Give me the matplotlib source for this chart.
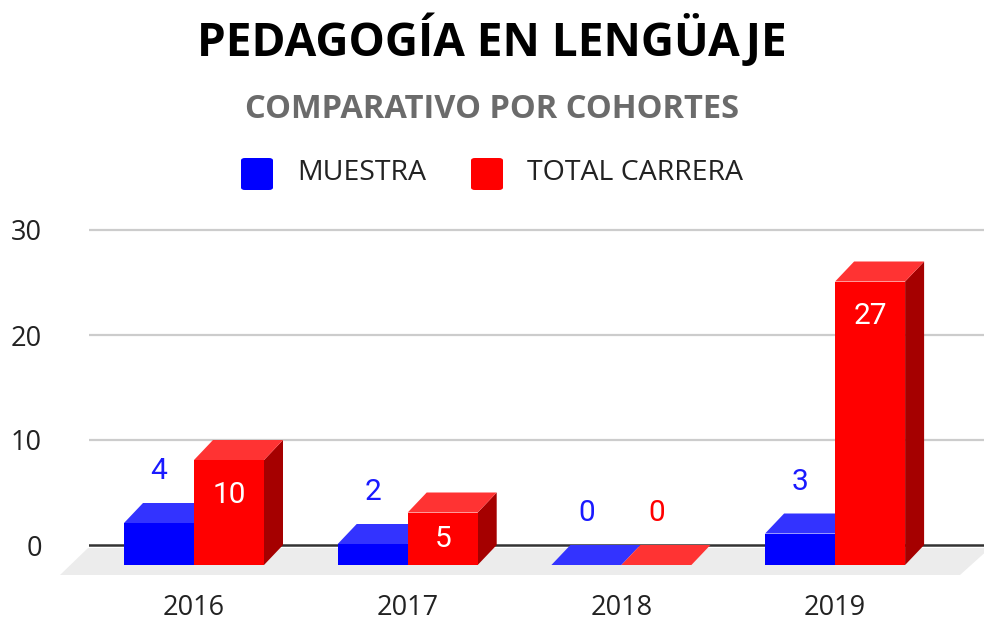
import matplotlib
matplotlib.use('Agg')
import matplotlib.pyplot as plt
from matplotlib.patches import Polygon, FancyBboxPatch

# --- DATA ---
years = ['2016', '2017', '2018', '2019']
muestra = [4, 2, 0, 3]
total_carrera = [10, 5, 0, 27]
y_ticks = [0, 10, 20, 30]

# --- LOOK ---
W, H = 984, 628
PX_Y = 10.5          # pixels per unit on y
SLOT = 213.7         # pixels per category
X0_PX = 194          # pixel x of first category
ZERO_PX = 545        # pixel y (from top) of value 0
LEFT_PX, RIGHT_PX = 89, 984

BAR_W = 70 / SLOT
DX = 19 / SLOT
DY = 20 / PX_Y

blue = {'front': '#0000ff', 'top': '#3333ff', 'side': '#0000a5', 'text': '#1a1aff'}
red = {'front': '#ff0000', 'top': '#ff3333', 'side': '#a50000', 'text': '#ff0000'}

FONT = 'Open Sans'

fig = plt.figure(figsize=(W / 100, H / 100), dpi=100)
ymin, ymax = -4, 32
ax_bottom = H - (ZERO_PX - ymin * PX_Y)
ax = fig.add_axes([LEFT_PX / W, ax_bottom / H, (RIGHT_PX - LEFT_PX) / W, (ymax - ymin) * PX_Y / H])
ax.set_xlim((LEFT_PX - X0_PX) / SLOT, (RIGHT_PX - X0_PX) / SLOT)
ax.set_ylim(ymin, ymax)
for s in ax.spines.values():
    s.set_visible(False)

# grid + zero line
for t in y_ticks[1:]:
    ax.axhline(t, color='#cccccc', lw=1.6, zorder=1)
ax.axhline(0, color='#333333', lw=1.8, zorder=2)

# floor
fl_top, fl_bot = -3 / PX_Y, -30 / PX_Y
floor = Polygon([((88 - X0_PX) / SLOT, fl_top), ((990 - X0_PX) / SLOT, fl_top),
                 ((960 - X0_PX) / SLOT, fl_bot), ((60 - X0_PX) / SLOT, fl_bot)],
                closed=True, facecolor='#ececec', edgecolor='none', zorder=3, clip_on=False)
ax.add_patch(floor)


def bar3d(x0, v, c):
    b = -DY
    front = Polygon([(x0, b), (x0 + BAR_W, b), (x0 + BAR_W, b + v), (x0, b + v)],
                    facecolor=c['front'], edgecolor='none', zorder=4, clip_on=False)
    side = Polygon([(x0 + BAR_W, b), (x0 + BAR_W + DX, 0), (x0 + BAR_W + DX, v), (x0 + BAR_W, b + v)],
                   facecolor=c['side'], edgecolor='none', zorder=4, clip_on=False)
    top = Polygon([(x0, b + v), (x0 + BAR_W, b + v), (x0 + BAR_W + DX, v), (x0 + DX, v)],
                  facecolor=c['top'], edgecolor='none', zorder=4, clip_on=False)
    ax.add_patch(side)
    ax.add_patch(front)
    ax.add_patch(top)


for i, (m, t) in enumerate(zip(muestra, total_carrera)):
    bar3d(i - BAR_W, m, blue)
    bar3d(i, t, red)
    # blue labels above
    ax.text(i - BAR_W / 2, m + 32 / PX_Y, str(m), ha='center', va='center',
            fontsize=21.5, family='Roboto', color=blue['text'], zorder=6)
    # red labels: inside end, centred when short, above when zero
    h_px = t * PX_Y
    if t == 0:
        ty, tc = t + 32 / PX_Y, red['text']
    elif h_px < 70:
        ty, tc = t / 2 - DY, 'white'
    else:
        ty, tc = t - DY - 35 / PX_Y, 'white'
    ax.text(i + BAR_W / 2, ty, str(t), ha='center', va='center',
            fontsize=21.5, family='Roboto', color=tc, zorder=6)
    # category label
    ax.text(i, -(608 - ZERO_PX) / PX_Y, years[i], ha='center', va='center',
            fontsize=19.5, family=FONT, color='#222222', clip_on=False)

ax.set_xticks([])
ax.set_yticks(y_ticks)
ax.set_yticklabels([str(t) for t in y_ticks], fontsize=19.5, family=FONT, color='#222222')
ax.tick_params(axis='y', length=0, pad=34)

# titles
fig.text(0.5, 1 - 40 / H, 'PEDAGOGÍA EN LENGÜAJE', ha='center', va='center',
         fontsize=33, fontweight='bold', family=FONT, color='black')
fig.text(0.5, 1 - 110 / H, 'COMPARATIVO POR COHORTES', ha='center', va='center',
         fontsize=23.5, fontweight='bold', family=FONT, color='#6b6b6b')

# legend
for (sx, tx, label, c) in [(241, 297, 'MUESTRA', blue['front']), (471, 527, 'TOTAL CARRERA', red['front'])]:
    sq = FancyBboxPatch((sx / W, 1 - 190 / H), 32 / W, 32 / H,
                        boxstyle='round,pad=0,rounding_size=0.004',
                        transform=fig.transFigure, facecolor=c, edgecolor='none')
    fig.patches.append(sq)
    fig.text(tx / W, 1 - 173 / H, label, ha='left', va='center',
             fontsize=20.5, family=FONT, color='#222222')

plt.savefig('out.png', dpi=100)
